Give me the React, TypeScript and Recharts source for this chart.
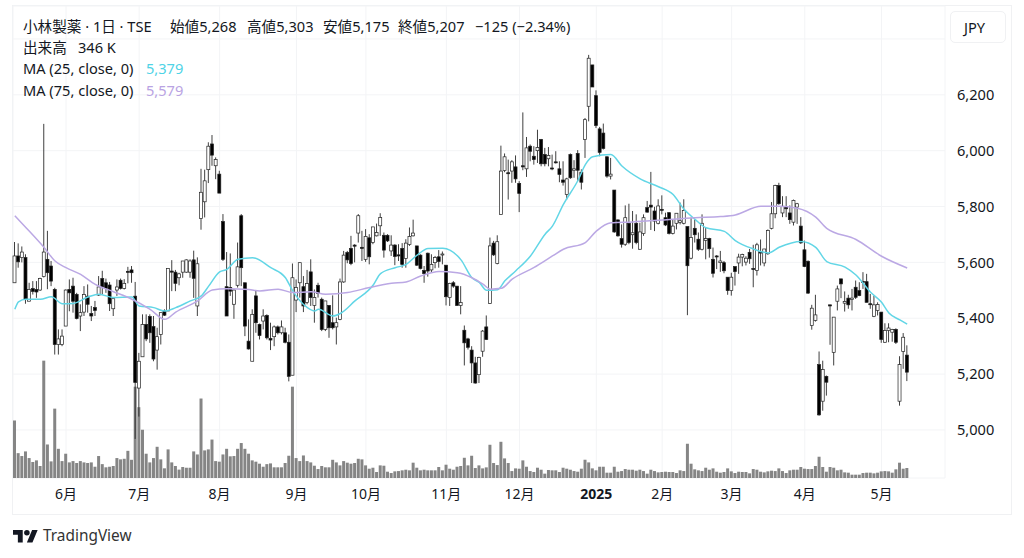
import { Bar, CartesianGrid, ComposedChart, Line, XAxis, YAxis } from 'recharts'

const opens = [
  5527,5623,5617,5617,5461,5506,5503,5501,5549,5611,
  5587,5503,5306,5306,5372,5503,5515,5485,5408,5422,
  5479,5417,5438,5483,5542,5527,5519,5434,5501,5536,
  5507,5568,5573,5479,5150,5262,5378,5406,5370,5286,
  5342,5426,5426,5569,5565,5545,5565,5565,5565,5609,
  5444,5757,5817,5932,6024,5946,5916,5746,5513,5510,
  5450,5518,5767,5527,5318,5246,5480,5378,5390,5410,
  5328,5334,5369,5348,5348,5314,5196,5465,5527,5513,
  5456,5566,5446,5518,5468,5360,5446,5384,5369,5396,
  5530,5635,5650,5662,5705,5654,5611,5688,5671,5695,
  5731,5697,5697,5641,5662,5627,5650,5614,5664,5695,
  5659,5626,5571,5633,5573,5599,5620,5629,5590,5474,
  5527,5515,5446,5357,5326,5286,5240,5198,5282,5369,
  5453,5669,5596,5772,5929,5921,5927,5942,5883,5946,
  5935,6016,5980,6000,6040,5986,5971,5938,5960,5935,
  5895,5843,5986,5930,5990,5923,6040,6159,6307,6197,
  6078,6063,5978,5909,5859,5752,5685,5665,5740,5699,
  5740,5647,5703,5796,5805,5784,5740,5790,5760,5778,
  5704,5740,5743,5740,5728,5615,5722,5683,5647,5679,
  5685,5611,5623,5599,5599,5547,5499,5585,5598,5619,
  5601,5636,5578,5571,5637,5598,5631,5722,5774,5875,
  5777,5800,5777,5744,5798,5730,5645,5604,5374,5392,
  5234,5103,5192,5448,5278,5461,5541,5454,5472,5467,
  5511,5499,5532,5531,5452,5407,5428,5422,5314,5356,
  5350,5360,5103,5281,5268,
]

const highs = [
  5673,5668,5657,5629,5527,5533,5533,5545,6096,5713,
  5605,5509,5360,5360,5503,5539,5545,5491,5450,5515,
  5521,5444,5462,5551,5570,5542,5530,5470,5539,5542,
  5540,5584,5587,5530,5276,5414,5414,5414,5408,5366,
  5420,5432,5578,5608,5573,5563,5605,5611,5611,5642,
  5618,5935,5932,6030,6056,5976,5928,5773,5637,5632,
  5503,5671,5773,5527,5396,5432,5498,5381,5432,5414,
  5384,5374,5374,5392,5366,5342,5596,5539,5599,5551,
  5573,5611,5503,5527,5474,5462,5446,5482,5402,5542,
  5641,5641,5695,5665,5773,5713,5719,5701,5727,5739,
  5776,5707,5701,5697,5665,5665,5669,5683,5725,5753,
  5659,5629,5587,5635,5629,5623,5644,5639,5590,5527,
  5533,5515,5515,5374,5330,5300,5262,5262,5358,5410,
  5689,5677,5697,6018,5990,5968,5966,5983,5891,6137,
  6049,6022,6016,6075,6042,6010,6013,5986,5998,5962,
  5962,5903,5990,5966,6002,5933,6117,6343,6307,6216,
  6085,6097,5980,5974,5859,5754,5736,5804,5810,5784,
  5772,5742,5772,5820,5924,5799,5826,5840,5778,5780,
  5754,5776,5814,5826,5728,5760,5754,5707,5772,5724,
  5688,5653,5626,5641,5605,5547,5563,5585,5631,5631,
  5622,5648,5663,5670,5682,5648,5718,5816,5878,5885,
  5837,5837,5804,5825,5813,5762,5678,5607,5448,5484,
  5281,5248,5195,5448,5404,5517,5541,5496,5484,5505,
  5535,5529,5565,5559,5487,5481,5457,5422,5382,5382,
  5362,5364,5264,5347,5303,
]

const lows = [
  5527,5581,5600,5452,5461,5485,5473,5498,5546,5504,
  5515,5270,5270,5300,5372,5425,5420,5396,5354,5408,
  5420,5390,5408,5480,5485,5491,5426,5408,5480,5503,
  5503,5525,5527,4968,5048,5262,5318,5312,5246,5216,
  5306,5408,5426,5497,5497,5518,5545,5563,5545,5473,
  5408,5717,5761,5884,5946,5898,5848,5605,5408,5480,
  5398,5510,5515,5336,5288,5246,5348,5324,5360,5324,
  5286,5300,5342,5342,5310,5174,5196,5422,5474,5422,
  5450,5444,5384,5474,5354,5354,5330,5360,5306,5393,
  5527,5597,5590,5600,5671,5605,5602,5593,5665,5693,
  5695,5617,5673,5623,5590,5605,5581,5581,5659,5693,
  5587,5575,5527,5549,5563,5579,5581,5593,5446,5444,
  5509,5444,5414,5231,5288,5168,5166,5168,5262,5322,
  5451,5623,5593,5772,5923,5825,5885,5885,5780,5930,
  5906,5962,5950,5956,5944,5944,5944,5930,5954,5887,
  5875,5825,5899,5903,5891,5861,5974,6105,6228,6081,
  5980,6004,5903,5897,5706,5692,5653,5659,5665,5649,
  5665,5645,5695,5778,5716,5712,5736,5772,5730,5700,
  5700,5718,5736,5736,5411,5611,5671,5641,5643,5611,
  5617,5546,5576,5566,5561,5484,5481,5517,5559,5586,
  5589,5595,5511,5553,5589,5586,5627,5718,5758,5806,
  5762,5762,5738,5732,5738,5666,5583,5487,5359,5388,
  5051,5069,5123,5305,5231,5428,5472,5424,5434,5428,
  5469,5479,5505,5457,5434,5404,5410,5312,5312,5314,
  5316,5308,5087,5219,5175,
]

const closes = [
  5623,5602,5637,5468,5503,5496,5494,5542,5637,5563,
  5533,5306,5326,5336,5501,5491,5461,5399,5420,5485,
  5450,5408,5428,5512,5512,5507,5452,5470,5512,5507,
  5525,5565,5563,5170,5246,5378,5326,5348,5254,5334,
  5420,5411,5578,5565,5525,5559,5605,5609,5605,5543,
  5595,5851,5892,6016,5984,5968,5848,5611,5408,5497,
  5501,5584,5581,5372,5290,5414,5384,5338,5408,5330,
  5322,5369,5348,5369,5314,5192,5545,5510,5599,5444,
  5524,5474,5474,5489,5360,5462,5366,5366,5384,5530,
  5626,5609,5596,5658,5767,5650,5693,5620,5727,5707,
  5761,5644,5677,5662,5621,5623,5593,5669,5693,5705,
  5590,5578,5560,5569,5593,5617,5603,5630,5477,5525,
  5515,5446,5456,5312,5296,5240,5168,5260,5354,5324,
  5659,5627,5674,5927,5978,5918,5960,5899,5847,5942,
  6010,5998,5968,6011,5953,5953,5983,5935,5959,5915,
  5887,5899,5903,5935,5930,5887,6111,6331,6228,6090,
  5994,6008,5909,5916,5709,5695,5665,5760,5671,5706,
  5671,5709,5760,5780,5798,5748,5802,5788,5734,5704,
  5730,5776,5749,5786,5588,5689,5699,5647,5740,5685,
  5649,5561,5620,5605,5570,5499,5547,5567,5619,5628,
  5615,5613,5576,5663,5634,5648,5714,5774,5875,5810,
  5801,5792,5753,5822,5810,5670,5585,5490,5436,5412,
  5054,5216,5171,5444,5404,5505,5523,5460,5448,5472,
  5475,5481,5530,5457,5449,5448,5449,5324,5356,5365,
  5360,5314,5234,5332,5207,
]

// thousands of shares
const volumes = [
  1990,860,760,920,690,550,610,415,4060,1160,
  575,2400,1010,585,840,540,585,520,585,540,
  520,540,390,760,480,370,390,415,690,645,
  665,940,630,3160,2450,1670,840,540,690,1080,
  645,335,990,540,415,290,380,355,355,920,
  815,2750,955,990,1330,585,565,815,1010,750,
  760,1010,1210,1010,840,610,565,495,390,480,
  505,370,370,370,520,770,3160,690,585,780,
  585,540,425,310,415,370,370,630,540,437,
  585,530,495,520,665,645,437,322,356,207,
  437,425,218,172,230,240,265,287,265,530,
  356,265,287,265,265,265,380,265,460,322,
  287,390,415,700,437,770,345,437,333,368,
  1150,518,448,1253,678,518,240,333,322,610,
  390,240,207,356,287,150,276,265,265,207,
  356,322,287,240,218,322,632,540,333,265,
  390,390,184,184,390,218,240,310,287,287,
  253,287,240,150,287,240,195,207,218,207,
  207,172,265,240,1185,495,300,265,240,356,
  287,333,218,184,207,333,230,172,218,207,
  207,161,310,287,218,195,230,253,240,333,
  240,172,265,287,287,380,322,310,310,415,
  736,380,218,380,356,265,287,195,184,115,
  115,115,172,184,184,161,184,230,240,230,
  184,300,530,322,346,
]

const ma25Index = [
  0,1,3,5,7,10,13,16,20,23,27,32,34,38,41,44,48,51,53,56,58,61,
  65,70,74,76,80,82,83,87,89,93,98,100,104,107,110,113,117,122,125,
  127,129,132,134,137,141,145,147,150,154,156,158,163,166,171,176,180,183,186,189,
  194,197,202,206,209,215,219,222,227,230,234,237,239,242,244,
]
const ma25Values = [
  5432,5459,5468,5468,5468,5477,5452,5453,5476,5486,5474,5476,5444,5438,5426,5438,5462,5480,5515,5566,5575,5611,
  5617,5581,5545,5498,5438,5426,5432,5408,5417,5462,5519,5560,5581,5593,5626,5650,5651,5609,5545,
  5528,5500,5502,5534,5570,5623,5701,5730,5808,5894,5950,5978,5986,5945,5899,5871,5843,5790,5754,5724,
  5711,5678,5648,5634,5654,5675,5654,5603,5583,5555,5493,5457,5419,5394,5379,
]

const ma75Index = [
  0,3,8,11,14,18,22,27,32,37,41,44,50,54,58,64,
  67,72,76,81,85,91,97,103,107,111,116,121,125,128,
  130,133,136,142,147,150,156,159,163,169,177,186,
  193,197,204,209,214,219,222,230,237,244,
]
const ma75Values = [
  5767,5725,5653,5605,5581,5557,5521,5495,5468,5432,5396,5422,5462,5501,5506,5503,
  5498,5504,5492,5495,5486,5492,5510,5525,5530,5551,5567,5563,5545,5522,
  5504,5507,5540,5582,5623,5647,5671,5712,5742,5745,5752,5760,
  5764,5770,5801,5801,5794,5762,5722,5682,5622,5580,
]

const priceTicks = [5000, 5200, 5400, 5600, 5800, 6000, 6200, 6400]
const monthTicks = [14, 34, 56, 77, 96, 118, 138, 159, 177, 196, 216, 237]
const monthLabels = ['6月', '7月', '8月', '9月', '10月', '11月', '12月', '2025', '2月', '3月', '4月', '5月']

const FONT = '"Noto Sans", "Noto Sans CJK JP", sans-serif'
const INK = '#131722'
const TEXT_SIZE = 14.6

const table = closes.map((close, i) => {
  const a = ma25Index.indexOf(i)
  const b = ma75Index.indexOf(i)
  return {
    i,
    range: [lows[i], highs[i]],
    open: opens[i],
    close,
    high: highs[i],
    low: lows[i],
    volume: volumes[i],
    ma25: a >= 0 ? ma25Values[a] : null,
    ma75: b >= 0 ? ma75Values[b] : null,
  }
})

function Candle({ x, y, width, height, payload }: any) {
  const { open, close, high, low } = payload
  const perYen = height / (high - low)
  const top = y + (high - Math.max(open, close)) * perYen
  const bodyHeight = Math.max(Math.abs(open - close) * perYen, 1)
  const mid = x + width / 2
  const up = close >= open
  return (
    <g>
      <line x1={mid} x2={mid} y1={y} y2={y + height} stroke="#2a2a2a" strokeWidth={0.9} />
      <rect
        x={x}
        y={top}
        width={width}
        height={bodyHeight}
        fill={up ? '#ffffff' : '#000000'}
        stroke="#222222"
        strokeWidth={0.7}
      />
    </g>
  )
}

function MonthTick({ x, y, payload }: any) {
  const label = monthLabels[monthTicks.indexOf(payload.value)]
  return (
    <text
      x={x}
      y={y}
      dy={13}
      textAnchor="middle"
      fontFamily={FONT}
      fontSize={14}
      fontWeight={label === '2025' ? 700 : 400}
      fill={INK}
    >
      {label}
    </text>
  )
}

const row = { position: 'absolute', whiteSpace: 'pre', lineHeight: '20px' } as const

export default function App() {
  return (
    <div
      style={{
        position: 'absolute',
        left: 0,
        top: 0,
        width: 1024,
        height: 558,
        background: '#fff',
        overflow: 'hidden',
        fontFamily: FONT,
        fontSize: TEXT_SIZE,
        color: INK,
      }}
    >
      <div
        style={{
          position: 'absolute',
          left: 12,
          top: 5,
          width: 998,
          height: 508,
          border: '1px solid #f0f1f3',
        }}
      />
      <ComposedChart
        width={1024}
        height={558}
        data={table}
        margin={{ top: 6, right: 13, bottom: 44, left: 13 }}
        style={{ position: 'absolute', left: 0, top: 0 }}
      >
        <CartesianGrid stroke="#f3f4f6" />
        <XAxis
          dataKey="i"
          type="category"
          ticks={monthTicks}
          interval={0}
          height={36}
          axisLine={false}
          tickLine={false}
          padding={{ left: 0, right: 36 }}
          tick={<MonthTick />}
        />
        <XAxis xAxisId="vol" dataKey="i" type="category" hide padding={{ left: 0, right: 36 }} />
        <YAxis
          orientation="right"
          width={66}
          domain={[4828, 6518]}
          ticks={priceTicks}
          interval={0}
          axisLine={false}
          tickLine={false}
          tickSize={0}
          tickMargin={12}
          tick={{ fontFamily: FONT, fontSize: TEXT_SIZE, fill: INK }}
          tickFormatter={(v: number) => (v === 6400 ? '' : v.toLocaleString('en-US'))}
        />
        <YAxis yAxisId="vol" hide domain={[0, 16331]} />
        <Bar
          xAxisId="vol"
          yAxisId="vol"
          dataKey="volume"
          barSize={3}
          fill="#858585"
          isAnimationActive={false}
        />
        <Bar dataKey="range" barSize={3} shape={Candle} isAnimationActive={false} />
        <Line
          dataKey="ma25"
          type="monotone"
          stroke="#62d6e6"
          strokeWidth={1.5}
          dot={false}
          connectNulls
          isAnimationActive={false}
        />
        <Line
          dataKey="ma75"
          type="monotone"
          stroke="#bba8e4"
          strokeWidth={1.5}
          dot={false}
          connectNulls
          isAnimationActive={false}
        />
      </ComposedChart>

      <span style={{ ...row, left: 23, top: 16 }}>小林製薬 · 1日 · TSE</span>
      <span style={{ ...row, left: 170, top: 16 }}>始値5,268</span>
      <span style={{ ...row, left: 247, top: 16 }}>高値5,303</span>
      <span style={{ ...row, left: 323, top: 16 }}>安値5,175</span>
      <span style={{ ...row, left: 398, top: 16 }}>終値5,207</span>
      <span style={{ ...row, left: 475, top: 16 }}>−125 (−2.34%)</span>
      <span style={{ ...row, left: 23, top: 37 }}>出来高</span>
      <span style={{ ...row, left: 78, top: 37 }}>346 K</span>
      <span style={{ ...row, left: 23, top: 58 }}>MA (25, close, 0)</span>
      <span style={{ ...row, left: 146, top: 58, color: '#4fd3e6' }}>5,379</span>
      <span style={{ ...row, left: 23, top: 80 }}>MA (75, close, 0)</span>
      <span style={{ ...row, left: 146, top: 80, color: '#b9a3e3' }}>5,579</span>

      <div
        style={{
          position: 'absolute',
          left: 950,
          top: 11,
          width: 47,
          height: 30,
          paddingRight: 7,
          border: '1px solid #f0f1f3',
          borderRadius: 5,
          background: '#fff',
          textAlign: 'center',
          lineHeight: '30px',
          fontSize: TEXT_SIZE,
        }}
      >
        JPY
      </div>

      <svg
        style={{ position: 'absolute', left: 13, top: 530 }}
        width={25}
        height={12.5}
        viewBox="0 4 36 18"
      >
        <path d="M14 22H7V11H0V4h14v18zM28 22h-8l7.5-18h8L28 22z" fill={INK} />
        <circle cx="20" cy="8" r="4" fill={INK} />
      </svg>
      <span style={{ ...row, left: 43, top: 526, fontSize: 15.4, color: '#333' }}>TradingView</span>
    </div>
  )
}
